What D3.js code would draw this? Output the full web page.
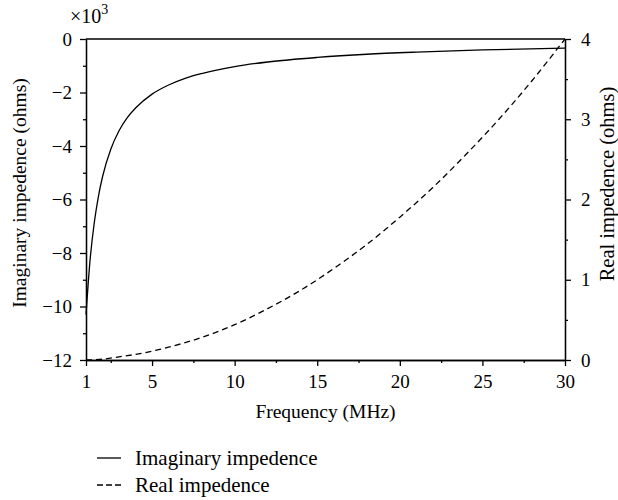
<!DOCTYPE html>
<html>
<head>
<meta charset="utf-8">
<script src="https://cdn.jsdelivr.net/npm/d3@7"></script>
<style>
  body { margin: 0; background: #fff; }
  svg { font-family: "Liberation Serif", serif; }
</style>
</head>
<body>
<div id="chart"></div>
<script>
// frequency (MHz) and imaginary impedance (x10^3 ohms)
var freqImag = [1, 1.25, 1.5, 1.75, 2, 2.5, 3, 3.5, 4, 5, 6, 7, 8, 10, 12, 15, 18, 21, 25, 30];
var imagVals = [-10.3, -8.24, -6.87, -5.89, -5.15, -4.12, -3.43, -2.94, -2.58, -2.06, -1.72, -1.47, -1.29, -1.03, -0.86, -0.69, -0.57, -0.49, -0.41, -0.34];

// frequency (MHz) and real impedance (ohms)
var freqReal = [1, 2, 3, 4, 5, 6, 8, 10, 12, 14, 16, 18, 20, 22, 24, 26, 28, 30];
var realVals = [0, 0.01, 0.04, 0.07, 0.11, 0.16, 0.28, 0.44, 0.64, 0.87, 1.14, 1.44, 1.78, 2.15, 2.56, 3.0, 3.48, 4.0];

var xTicks = [1, 5, 10, 15, 20, 25, 30],
    xMinor = [2.5, 7.5, 12.5, 17.5, 22.5, 27.5],
    yLeftTicks = [0, -2, -4, -6, -8, -10, -12],
    yLeftMinor = [-1, -3, -5, -7, -9, -11],
    yRightTicks = [0, 1, 2, 3, 4],
    yRightMinor = [0.5, 1.5, 2.5, 3.5];

var legendItems = ["Imaginary impedence", "Real impedence"];

(function draw(){
    var width = 618,
        height = 500,
        mLeft = 86, mRight = 565, mTop = 39, mBottom = 360;

    var svg = d3.select("#chart")
        .append("svg")
        .attr("width", width)
        .attr("height", height);

    var x = d3.scaleLinear().domain([1, 30]).range([mLeft, mRight]),
        yL = d3.scaleLinear().domain([-12, 0]).range([mBottom, mTop]),
        yR = d3.scaleLinear().domain([0, 4]).range([mBottom, mTop]);

    function styleAxis(g){
        g.selectAll("path, line").attr("stroke", "#000").attr("stroke-width", 1.3);
        g.selectAll("text").style("font-family", "Liberation Serif, serif").style("font-size", "19px").attr("fill", "#000");
    }

    // bottom axis
    svg.append("g")
        .attr("transform", "translate(0," + mBottom + ")")
        .call(d3.axisBottom(x).tickValues(xTicks).tickSize(6).tickSizeOuter(0).tickPadding(9).tickFormat(d3.format("d")))
        .call(styleAxis);
    svg.append("g")
        .attr("transform", "translate(0," + mBottom + ")")
        .call(d3.axisBottom(x).tickValues(xMinor).tickSize(3).tickSizeOuter(0).tickFormat(""))
        .call(styleAxis);

    // left axis
    svg.append("g")
        .attr("transform", "translate(" + mLeft + ",0)")
        .call(d3.axisLeft(yL).tickValues(yLeftTicks).tickSize(6).tickSizeOuter(0).tickPadding(8).tickFormat(d3.format("d")))
        .call(styleAxis);
    svg.append("g")
        .attr("transform", "translate(" + mLeft + ",0)")
        .call(d3.axisLeft(yL).tickValues(yLeftMinor).tickSize(3).tickSizeOuter(0).tickFormat(""))
        .call(styleAxis);

    // right axis
    svg.append("g")
        .attr("transform", "translate(" + mRight + ",0)")
        .call(d3.axisRight(yR).tickValues(yRightTicks).tickSize(6).tickSizeOuter(0).tickPadding(10).tickFormat(d3.format("d")))
        .call(styleAxis);
    svg.append("g")
        .attr("transform", "translate(" + mRight + ",0)")
        .call(d3.axisRight(yR).tickValues(yRightMinor).tickSize(3).tickSizeOuter(0).tickFormat(""))
        .call(styleAxis);

    // top frame
    svg.append("line")
        .attr("x1", mLeft).attr("x2", mRight)
        .attr("y1", mTop).attr("y2", mTop)
        .attr("stroke", "#000").attr("stroke-width", 1.3);

    // curves
    var lineImag = d3.line()
        .x((d, i) => x(freqImag[i]))
        .y((d) => yL(d))
        .curve(d3.curveMonotoneX);

    var lineReal = d3.line()
        .x((d, i) => x(freqReal[i]))
        .y((d) => yR(d))
        .curve(d3.curveMonotoneX);

    svg.append("path")
        .attr("d", lineImag(imagVals))
        .attr("fill", "none")
        .attr("stroke", "#000")
        .attr("stroke-width", 1.3);

    svg.append("path")
        .attr("d", lineReal(realVals))
        .attr("fill", "none")
        .attr("stroke", "#000")
        .attr("stroke-width", 1.3)
        .attr("stroke-dasharray", "6,4");

    // multiplier label
    var mult = svg.append("text")
        .attr("x", 70)
        .attr("y", 23)
        .style("font-size", "20px");
    mult.append("tspan").text("\u00d710");
    mult.append("tspan").attr("dy", -9).style("font-size", "14px").text("3");

    // axis titles
    svg.append("text")
        .attr("x", (mLeft + mRight) / 2)
        .attr("y", 418)
        .attr("text-anchor", "middle")
        .style("font-size", "19.5px")
        .text("Frequency (MHz)");

    svg.append("text")
        .attr("transform", "translate(26,193) rotate(-90)")
        .attr("text-anchor", "middle")
        .style("font-size", "19.5px")
        .text("Imaginary impedence (ohms)");

    svg.append("text")
        .attr("transform", "translate(614,184) rotate(-90)")
        .attr("text-anchor", "middle")
        .style("font-size", "20.5px")
        .text("Real impedence (ohms)");

    // legend
    var legend = svg.append("g")
        .selectAll("g")
        .data(legendItems)
        .join("g")
        .attr("transform", (d, i) => "translate(97," + (458 + i * 27) + ")");

    legend.append("line")
        .attr("x1", 0).attr("x2", 24)
        .attr("stroke", "#000")
        .attr("stroke-width", 1.3)
        .attr("stroke-dasharray", (d, i) => i == 1 ? "6,3" : null);

    legend.append("text")
        .attr("x", 38)
        .attr("dy", "0.35em")
        .style("font-size", "21px")
        .text((d) => d);
})();
</script>
</body>
</html>
